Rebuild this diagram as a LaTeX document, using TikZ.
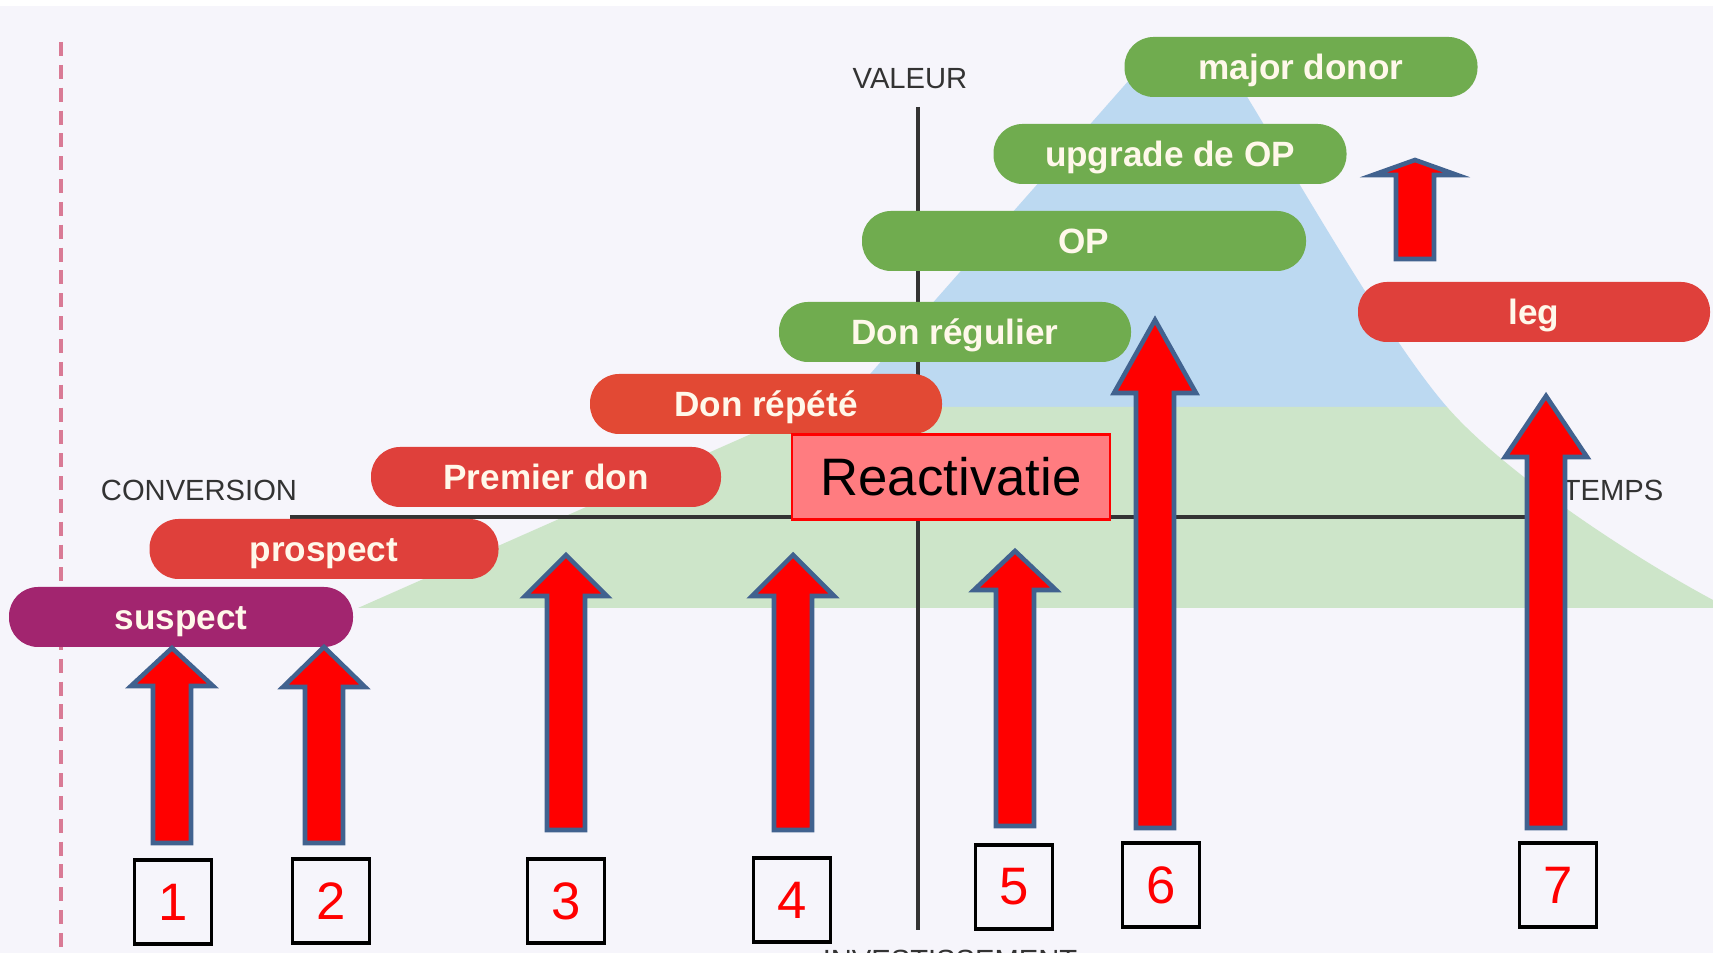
\documentclass[tikz,border=0pt]{standalone}
\usepackage{fontspec}
\setmainfont{Liberation Sans}
\definecolor{PageBg}{HTML}{F6F5FB}
\definecolor{HillGreen}{HTML}{CDE5C9}
\definecolor{HillBlue}{HTML}{BCD9F1}
\definecolor{PillRed}{HTML}{DF403B}
\definecolor{PillOrange}{HTML}{E24934}
\definecolor{PillGreen}{HTML}{70AC4F}
\definecolor{PillPurple}{HTML}{A2256F}
\definecolor{PillText}{HTML}{FFF8EA}
\definecolor{AxisGray}{HTML}{333333}
\definecolor{ArrowEdge}{HTML}{41628F}
\definecolor{DashPink}{HTML}{D97A95}
\definecolor{ReactPink}{HTML}{FF7C80}

\begin{document}
\begin{tikzpicture}[
  x=0.1mm,y=-0.1mm,
  pill/.style={rounded corners=2.9mm,minimum width=35.2mm,minimum height=6mm,inner sep=0pt,
    text height=7.2pt,text depth=0pt,text=PillText,font=\bfseries\fontsize{10}{12}\selectfont},
  redpill/.style={pill,fill=PillRed},
  greenpill/.style={pill,fill=PillGreen},
  axislabel/.style={text=AxisGray,inner sep=0pt,font=\fontsize{8.3}{10}\selectfont},
  numbox/.style={draw=black,line width=1.1pt,minimum width=7.7mm,minimum height=8.4mm,
    inner sep=0pt,text=red,font=\fontsize{15}{18}\selectfont},
  blockarrow/.style={fill=red,draw=ArrowEdge,line width=1.3pt,line join=miter}
]
  \useasboundingbox (0,0) rectangle (1713,953);
  \fill[PageBg] (0,0) rectangle (1713,953);
  \fill[white] (0,0) rectangle (1713,6);

  % mountain
  \fill[HillBlue] (841,407) -- (1160,45) -- (1215,45)
    .. controls (1270,130) and (1380,330) .. (1447,407) -- cycle;
  \fill[HillGreen] (358,608) -- (812,407) -- (1447,407)
    .. controls (1500,468) and (1620,550) .. (1713,600) -- (1713,608) -- cycle;

  % axes
  \draw[DashPink,line width=0.9pt,dash pattern=on 4pt off 2.5pt] (61,42) -- (61,953);
  \draw[AxisGray,line width=1.1pt] (290,517) -- (1540,517);
  \draw[AxisGray,line width=0.9pt] (918,107) -- (918,930);
  \node[axislabel] (valeur) at (910,79) {VALEUR};
  \node[axislabel] (conversion) at (199,490) {CONVERSION};
  \node[axislabel] (temps) at (1613,490) {TEMPS};
  \node[axislabel,anchor=north] (invest) at (950,949) {INVESTISSEMENT};

  \node[pill,fill=PillPurple,minimum width=34.4mm] (suspect) at (181,617) {suspect};
  \node[redpill,minimum width=34.9mm] (prospect) at (324,549) {prospect};
  \node[redpill,minimum width=35mm] (premier) at (546,477) {Premier don};
  \node[pill,fill=PillOrange] (repete) at (766,404) {Don répété};
  \node[greenpill] (regulier) at (955,332) {Don régulier};
  \node[greenpill,minimum width=44.4mm] (op) at (1084,241) {OP};
  \node[greenpill,minimum width=35.3mm] (upgrade) at (1170,154) {upgrade de OP};
  \node[greenpill,minimum width=35.3mm] (major) at (1301,67) {major donor};
  \node[redpill] (leg) at (1534,312) {leg};

  \node[draw=red,fill=ReactPink,line width=0.6pt,minimum width=31.8mm,minimum height=8.5mm,
    inner sep=0pt,font=\fontsize{15}{18}\selectfont] (react) at (951,477) {Reactivatie};

  \foreach \ax/\tip/\base/\foot/\head in {172/648/686/843/41,324/647/687/843/41,
      566/555/596/830/41,793/555/596/830/41,1015/551/590/826/41,
      1155/320/393/828/41,1546/396/457/828/41,1415/160/175/259/42}
    \draw[blockarrow] (\ax-19,\foot) -- (\ax-19,\base) -- (\ax-\head,\base) -- (\ax,\tip)
      -- (\ax+\head,\base) -- (\ax+19,\base) -- (\ax+19,\foot) -- cycle;

  \foreach \n/\bx/\by in {1/173/902,2/331/901,3/566/901,4/792/900,5/1014/887,6/1161/885,7/1558/885}
    \node[numbox] (box\n) at (\bx,\by) {\n};
\end{tikzpicture}
\end{document}
